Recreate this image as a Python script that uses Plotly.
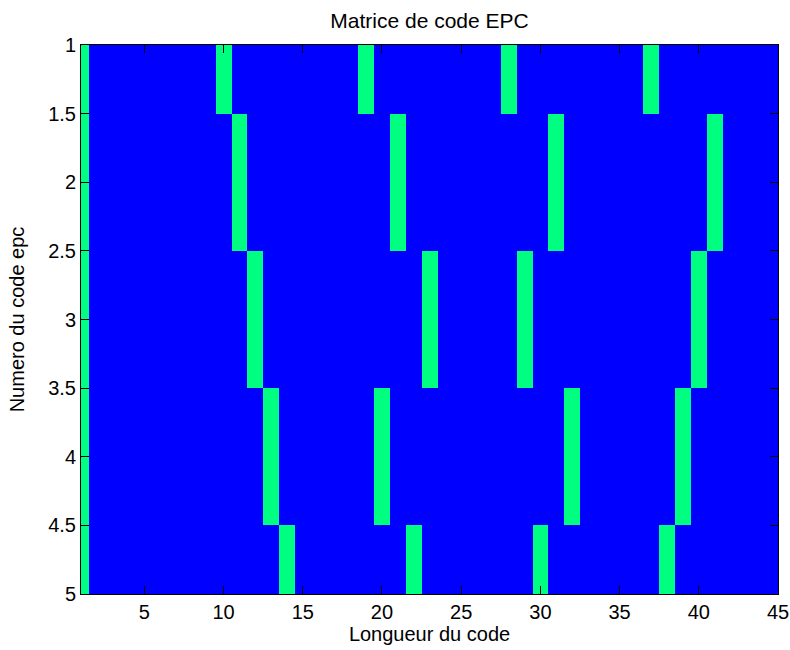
import numpy as np
import plotly.graph_objects as go

# EPC code matrix: 5 codes of length 45, listing the positions set to 1
code_numbers = [1, 2, 3, 4, 5]
code_length = 45
ones_row1 = [1, 10, 19, 28, 37]
ones_row2 = [1, 11, 21, 31, 41]
ones_row3 = [1, 12, 23, 29, 40]
ones_row4 = [1, 13, 20, 32, 39]
ones_row5 = [1, 14, 22, 30, 38]

x_tick_vals = [5, 10, 15, 20, 25, 30, 35, 40, 45]
y_tick_vals = [1, 1.5, 2, 2.5, 3, 3.5, 4, 4.5, 5]
y_tick_text = ["1", "1.5", "2", "2.5", "3", "3.5", "4", "4.5", "5"]

positions = list(range(1, code_length + 1))
rows = [ones_row1, ones_row2, ones_row3, ones_row4, ones_row5]
z = np.zeros((len(code_numbers), code_length))
for i, r in enumerate(rows):
    for p in r:
        z[i, p - 1] = 1

fig = go.Figure(
    go.Heatmap(
        x=positions,
        y=code_numbers,
        z=z,
        zmin=0,
        zmax=1,
        colorscale=[[0, "#0000FF"], [0.5, "#0000FF"], [0.5, "#00FF80"], [1, "#00FF80"]],
        showscale=False,
        hoverongaps=False,
    )
)

font = dict(family="Liberation Sans, Arial, sans-serif", size=20, color="black")
title_font = dict(family="Liberation Sans, Arial, sans-serif", size=21, color="black")

fig.update_layout(
    width=790,
    height=650,
    margin=dict(l=81, r=12, t=45, b=56),
    paper_bgcolor="white",
    plot_bgcolor="white",
    font=font,
    title=dict(
        text="Matrice de code EPC",
        x=(81 + 778) / 2 / 790,
        xanchor="center",
        y=1 - 21 / 650,
        yanchor="middle",
        yref="container",
        font=title_font,
    ),
    xaxis=dict(
        range=[1, 45],
        tickvals=x_tick_vals,
        ticks="inside",
        ticklen=8,
        tickcolor="black",
        showline=True,
        linecolor="black",
        linewidth=1,
        mirror="ticks",
        showgrid=False,
        zeroline=False,
        automargin=False,
        title=dict(text="Longueur du code", font=font, standoff=2),
        tickfont=font,
    ),
    yaxis=dict(
        range=[5, 1],
        tickvals=y_tick_vals,
        ticktext=y_tick_text,
        ticks="inside",
        ticklen=8,
        tickcolor="black",
        showline=True,
        linecolor="black",
        linewidth=1,
        mirror="ticks",
        showgrid=False,
        zeroline=False,
        automargin=False,
        title=dict(text="Numero du code epc", font=font, standoff=18),
        tickfont=font,
    ),
)

fig.write_html("out.html")
